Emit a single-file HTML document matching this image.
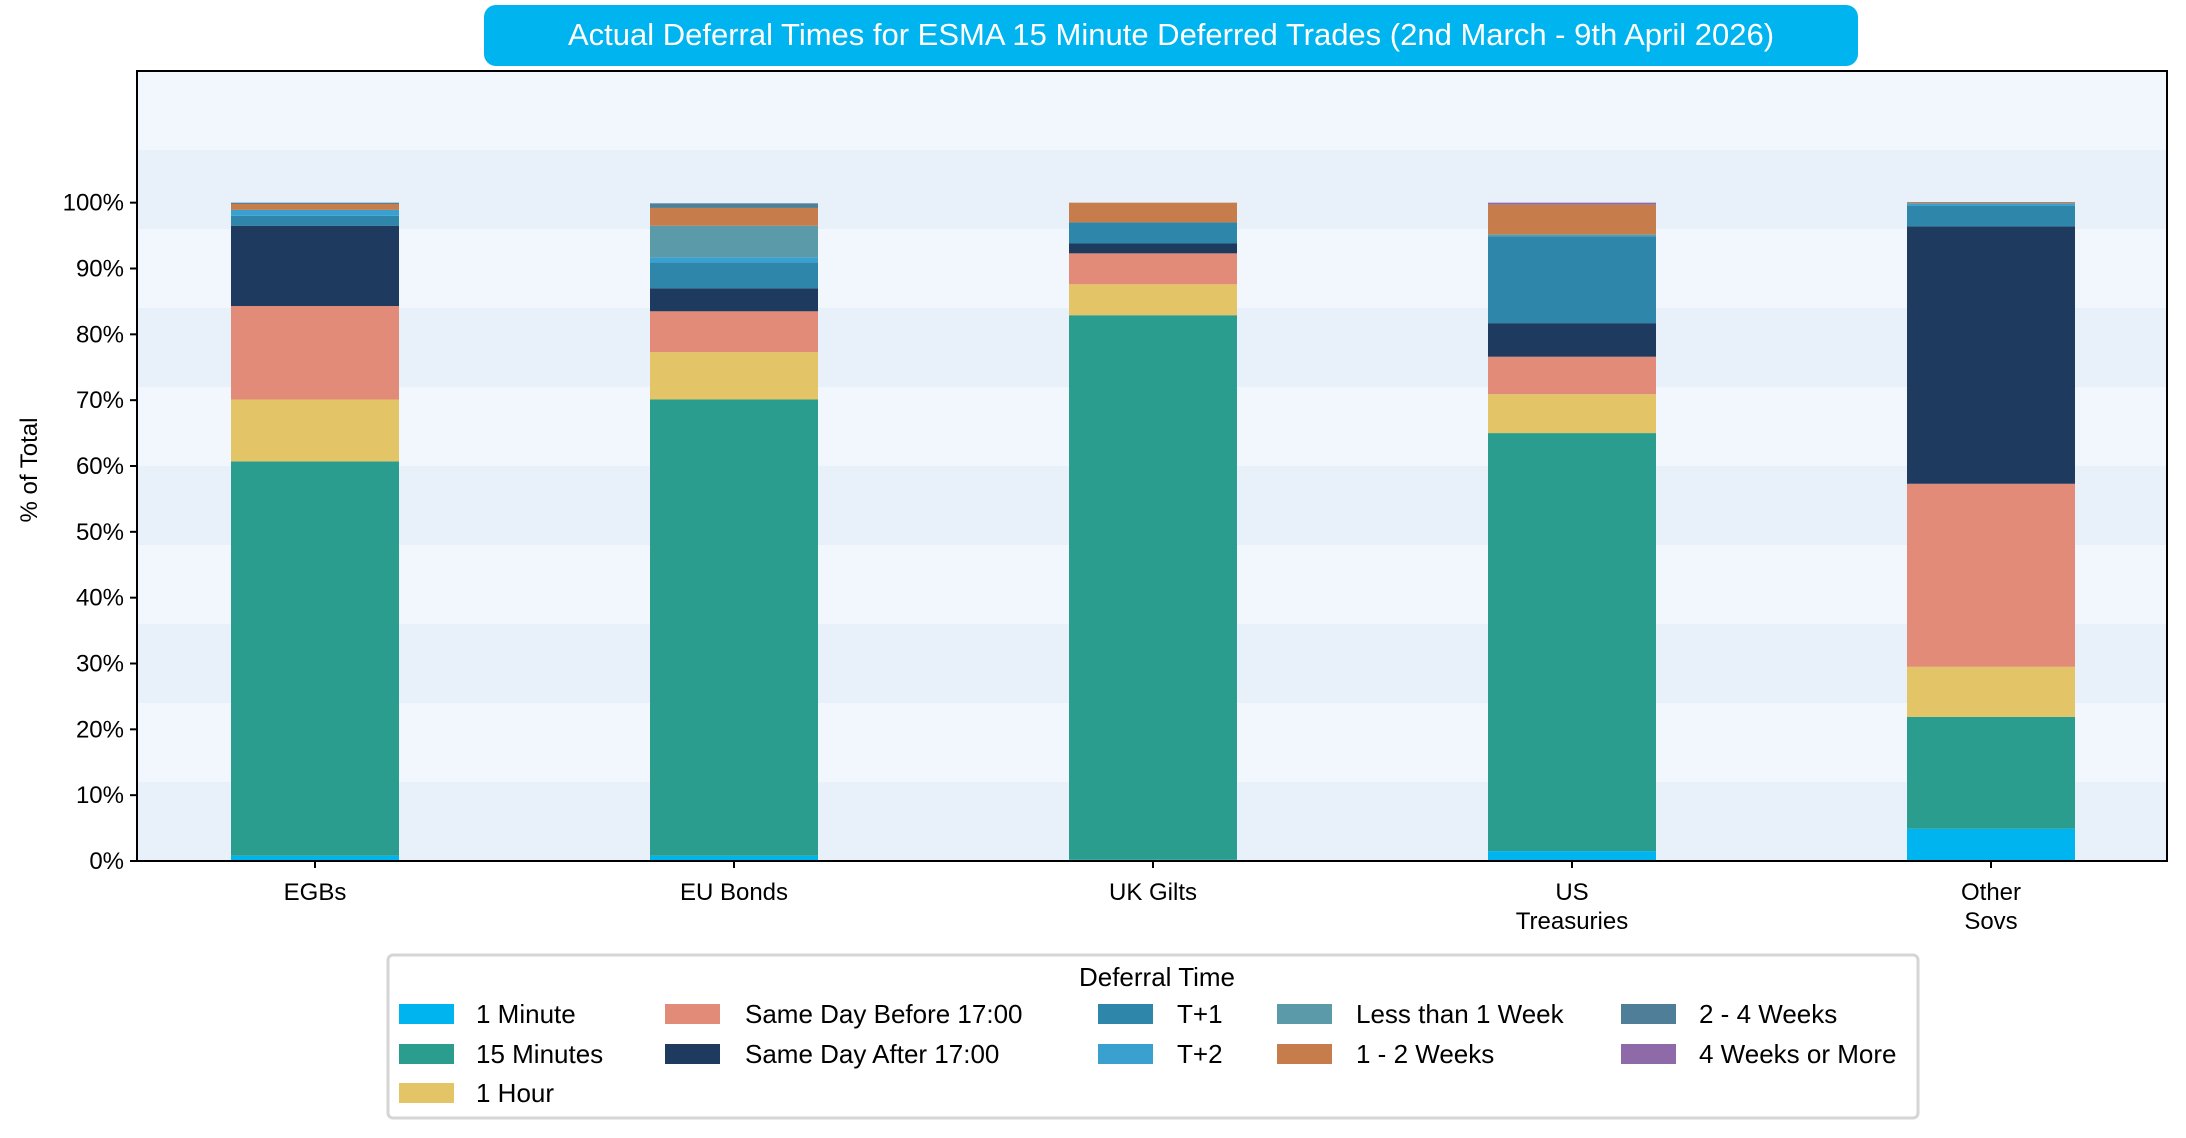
<!DOCTYPE html>
<html><head><meta charset="utf-8"><style>
body{margin:0;background:#fff;}
svg{display:block;font-family:"Liberation Sans",sans-serif;}
</style></head><body>
<svg id="chart" width="2186" height="1138" viewBox="0 0 2186 1138" xmlns="http://www.w3.org/2000/svg">
<rect x="0" y="0" width="2186" height="1138" fill="#fff"/>
<g id="bands"></g>
<g id="bars"></g>
<g id="axes"></g>
<g>
<rect x="484" y="5" width="1374" height="61" rx="12" fill="#00b4f0"/>
<text x="1171" y="45" text-anchor="middle" font-size="31" fill="#fff">Actual Deferral Times for ESMA 15 Minute Deferred Trades (2nd March - 9th April 2026)</text>
</g>
<text transform="translate(37,470) rotate(-90)" text-anchor="middle" font-size="24" fill="#000">% of Total</text>
<g id="legend">
<rect x="388" y="955" width="1530" height="163" rx="5" fill="#fff" stroke="#d5d5d5" stroke-width="3"/>
<text x="1157" y="986" text-anchor="middle" font-size="26" fill="#000">Deferral Time</text>
</g>
</svg>
<script>
const categories=["EGBs","EU Bonds","UK Gilts","US\nTreasuries","Other\nSovs"];
const seriesNames=["1 Minute","15 Minutes","1 Hour","Same Day Before 17:00","Same Day After 17:00","T+1","T+2","Less than 1 Week","1 - 2 Weeks","2 - 4 Weeks","4 Weeks or More"];
const colors=["#00b4f0","#2a9d8f","#e3c567","#e38b79","#1e3a5f","#2e86ab","#3aa0d0","#5b9aa8","#c67d4b","#4f7f98","#8e6ba8"];
const s1Minute=[0.8,0.8,0.2,1.5,4.9];
const s15Minutes=[59.9,69.3,82.7,63.5,17.0];
const s1Hour=[9.4,7.2,4.7,5.9,7.6];
const sBefore=[14.2,6.2,4.7,5.7,27.8];
const sAfter=[12.2,3.5,1.5,5.1,39.1];
const sT1=[1.5,3.9,3.2,13.2,3.1];
const sT2=[0.9,0.8,0,0,0.4];
const sLess1W=[0,4.8,0,0.3,0];
const s1to2W=[0.9,2.7,3.0,4.5,0.2];
const s2to4W=[0.2,0.7,0,0,0];
const s4WPlus=[0,0,0,0.3,0];
const series=[s1Minute,s15Minutes,s1Hour,sBefore,sAfter,sT1,sT2,sLess1W,s1to2W,s2to4W,s4WPlus];
const yTicks=[0,10,20,30,40,50,60,70,80,90,100];

const NS="http://www.w3.org/2000/svg";
const L=137,R=2167,T=71,B=861,YMAX=120;
const y=v=>B-(v/YMAX)*(B-T);
const x=i=>315+i*419;
const BW=168;
function mk(tag,attrs,parent){const e=document.createElementNS(NS,tag);for(const k in attrs)e.setAttribute(k,attrs[k]);parent.appendChild(e);return e;}

const bands=document.getElementById('bands');
for(let i=0;i<10;i++){
  const r=mk('rect',{x:L,y:y(Math.min((i+1)*12,YMAX)),width:R-L,height:y(i*12)-y((i+1)*12),fill:i%2===0?'#e8f0f9':'#f2f7fd'},bands);
  
  
}
const bars=document.getElementById('bars');
categories.forEach((c,i)=>{
  let base=0;
  series.forEach((s,k)=>{
    const v=s[i];
    if(v>0){
      const r=mk('rect',{x:x(i)-BW/2,y:y(base+v),width:BW,height:y(base)-y(base+v),fill:colors[k]},bars);
      
      
    }
    base+=v;
  });
});
const axes=document.getElementById('axes');
const fr=mk('rect',{x:L,y:T,width:R-L,height:B-T,fill:'none',stroke:'#000','stroke-width':2},axes);


yTicks.forEach(t=>{
  mk('line',{x1:L-7,x2:L,y1:y(t),y2:y(t),stroke:'#000','stroke-width':2},axes);
  const tx=mk('text',{x:L-13,y:y(t)+8,'text-anchor':'end','font-size':24},axes);
  tx.textContent=t+'%';
  
  
});
categories.forEach((c,i)=>{
  mk('line',{x1:x(i),x2:x(i),y1:B,y2:B+7,stroke:'#000','stroke-width':2},axes);
  c.split('\n').forEach((ln,j)=>{
    const tx=mk('text',{x:x(i),y:900+j*29,'text-anchor':'middle','font-size':24},axes);
    tx.textContent=ln;
    
    
  });
});
const leg=document.getElementById('legend');
const colX=[399,665,1098,1277,1621],txtX=[476,745,1177,1356,1699];
const colOf=[0,0,0,1,1,2,2,3,3,4,4],rowOf=[0,1,2,0,1,0,1,0,1,0,1];
const rowY=[1014,1054,1093];
seriesNames.forEach((n,k)=>{
  const c=colOf[k],r=rowOf[k];
  const g=mk('g',{},leg);
  
  
  mk('rect',{x:colX[c],y:rowY[r]-10,width:55,height:20,fill:colors[k]},g);
  const t=mk('text',{x:txtX[c],y:rowY[r]+9,'font-size':26},g);
  t.textContent=n;
});
</script>
</body></html>
